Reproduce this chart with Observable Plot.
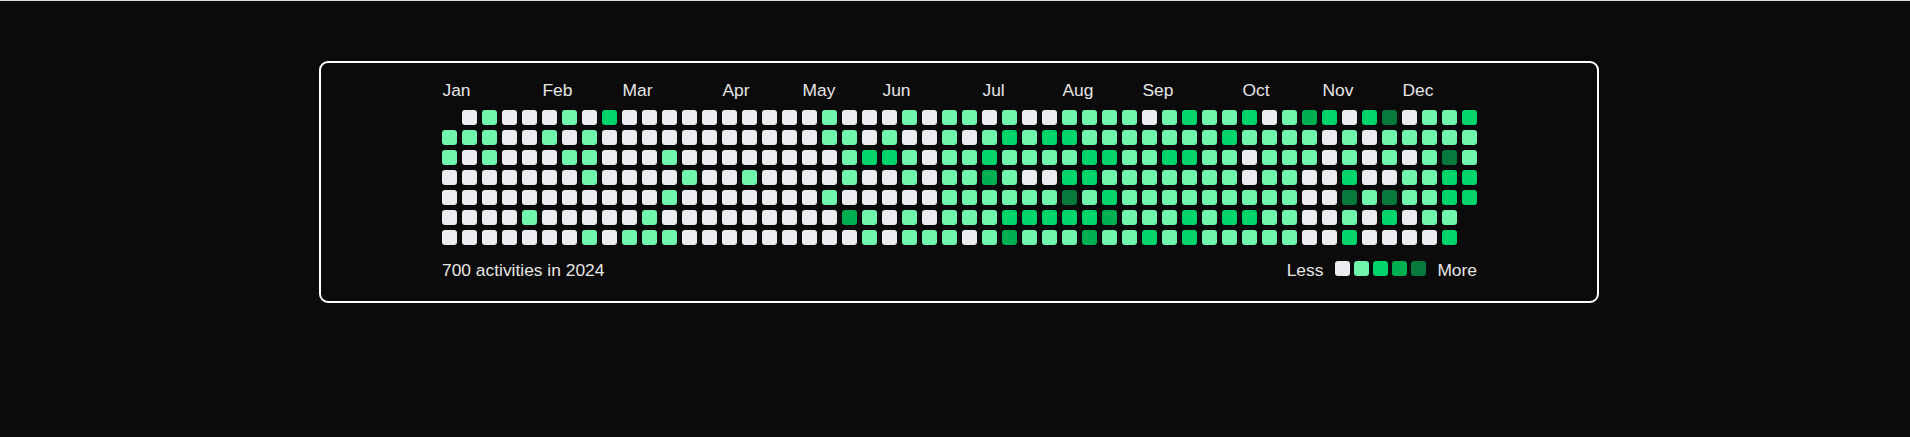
<!DOCTYPE html>
<html>
<head>
<meta charset="utf-8">
<script src="https://cdn.jsdelivr.net/npm/d3@7"></script>
<script src="https://cdn.jsdelivr.net/npm/@observablehq/plot@0.6"></script>
<style>
  html, body { margin: 0; padding: 0; }
  body {
    width: 1910px; height: 437px; overflow: hidden; position: relative;
    background: #0b0b0b;
    font-family: "Liberation Sans", Arial, sans-serif;
    color: #e6e6e6;
  }
  #topline { position: absolute; left: 0; top: 0; width: 1910px; height: 1px; background: #dcdcdc; }
  #card {
    position: absolute; left: 319px; top: 61px; width: 1280px; height: 242px;
    box-sizing: border-box; border: 2px solid #ffffff; border-radius: 9px;
  }
  #chart { position: absolute; left: 0; top: 0; }
  #footer {
    position: absolute; left: 442px; top: 260px; width: 1035px;
    display: flex; justify-content: space-between; align-items: baseline;
    font-size: 17.4px; line-height: 20px;
  }
  #legend { display: flex; align-items: baseline; }
  #legend .sw { width: 15px; height: 15px; border-radius: 3px; margin-right: 4px; }
  #legend .less { margin-right: 12px; }
  #legend .more { margin-left: 7px; }
</style>
</head>
<body>
<div id="topline"></div>
<div id="card"></div>
<div id="chart"></div>
<div id="footer"></div>
<script>
// ---- data ----
const year = 2024;
const totalActivities = 700;
const weekdays = ["Sun", "Mon", "Tue", "Wed", "Thu", "Fri", "Sat"];
const levelColors = ["#ebecf0", "#6ff5ac", "#00d46a", "#00b050", "#057a3c"];
// activity level (0-4) per week column, one array per weekday row; null = no day
const sun = [null,0,1,0,0,0,1,0,2,0,0,0,0, 0,0,0,0,0,0,1,0,0,0,1,0,1, 1,0,1,0,0,1,1,1,1,0,1,2,1, 1,2,0,1,3,2,0,2,4,0,1,1,2];
const mon = [1,1,1,0,0,1,0,1,0,0,0,0,0, 0,0,0,0,0,0,1,1,0,1,0,0,1, 0,1,2,1,2,2,1,1,1,1,1,1,1, 2,1,1,1,1,0,1,0,1,1,1,1,1];
const tue = [1,0,1,0,0,0,1,1,0,0,0,1,0, 0,0,0,0,0,0,0,1,2,2,1,0,1, 1,2,1,1,1,1,2,2,1,1,2,2,1, 1,0,1,1,1,0,1,0,1,0,1,4,1];
const wed = [0,0,0,0,0,0,0,1,0,0,0,0,1, 0,0,1,0,0,0,0,1,0,0,1,0,1, 1,3,1,0,0,2,2,1,1,1,1,1,1, 1,0,1,1,0,0,2,0,0,1,1,2,2];
const thu = [0,0,0,0,0,0,0,0,0,0,0,1,0, 0,0,0,0,0,0,1,0,0,0,0,0,1, 1,1,1,1,1,4,1,2,1,1,1,1,1, 1,1,1,1,0,0,4,1,4,1,1,2,2];
const fri = [0,0,0,0,1,0,0,0,0,0,1,0,0, 0,0,0,0,0,0,0,3,1,0,1,0,1, 1,1,2,2,2,2,2,3,1,1,1,2,1, 2,2,1,1,0,0,1,0,2,0,1,1,null];
const sat = [0,0,0,0,0,0,0,1,0,1,1,1,0, 0,0,0,0,0,0,0,0,1,0,1,1,1, 0,1,3,1,1,1,3,1,1,2,1,2,1, 1,1,1,1,0,0,2,0,0,0,0,2,null];
const monthLabels = ["Jan","Feb","Mar","Apr","May","Jun","Jul","Aug","Sep","Oct","Nov","Dec"];
const monthWeeks = [0, 5, 9, 14, 18, 22, 27, 31, 35, 40, 44, 48];

// ---- build table ----
const rows = [sun, mon, tue, wed, thu, fri, sat];
const cells = [];
rows.forEach((arr, day) => arr.forEach((level, week) => {
  if (level !== null) cells.push({week, day, weekday: weekdays[day], level});
}));
const nWeeks = sun.length;
const months = monthLabels.map((label, i) => ({label, week: monthWeeks[i]}));

const chart = Plot.plot({
  width: 1910,
  height: 437,
  marginLeft: 442,
  marginRight: 433,
  marginTop: 110,
  marginBottom: 192,
  style: {background: "transparent", color: "#e6e6e6", fontFamily: "'Liberation Sans', Arial, sans-serif", fontSize: "17.4px", overflow: "visible"},
  x: {type: "band", domain: d3.range(nWeeks), paddingInner: 0.25, paddingOuter: 0, axis: null},
  y: {type: "band", domain: d3.range(7), paddingInner: 0.25, paddingOuter: 0, axis: null},
  color: {type: "ordinal", domain: [0, 1, 2, 3, 4], range: levelColors},
  marks: [
    Plot.cell(cells, {x: "week", y: "day", fill: "level", rx: 3, inset: 0}),
    Plot.text(months, {x: "week", text: "label", frameAnchor: "top", textAnchor: "start", lineAnchor: "bottom", dx: -7.5, dy: -15, fill: "#e6e6e6", fontSize: 17.4})
  ]
});
document.getElementById("chart").appendChild(chart);

// ---- footer: summary + legend ----
const footer = document.getElementById("footer");
const summary = document.createElement("span");
summary.textContent = `${totalActivities} activities in ${year}`;
footer.appendChild(summary);
const legend = document.createElement("div");
legend.id = "legend";
const less = document.createElement("span");
less.className = "less"; less.textContent = "Less";
legend.appendChild(less);
levelColors.forEach(c => {
  const sw = document.createElement("div");
  sw.className = "sw"; sw.style.background = c;
  legend.appendChild(sw);
});
const more = document.createElement("span");
more.className = "more"; more.textContent = "More";
legend.appendChild(more);
footer.appendChild(legend);
</script>
</body>
</html>
